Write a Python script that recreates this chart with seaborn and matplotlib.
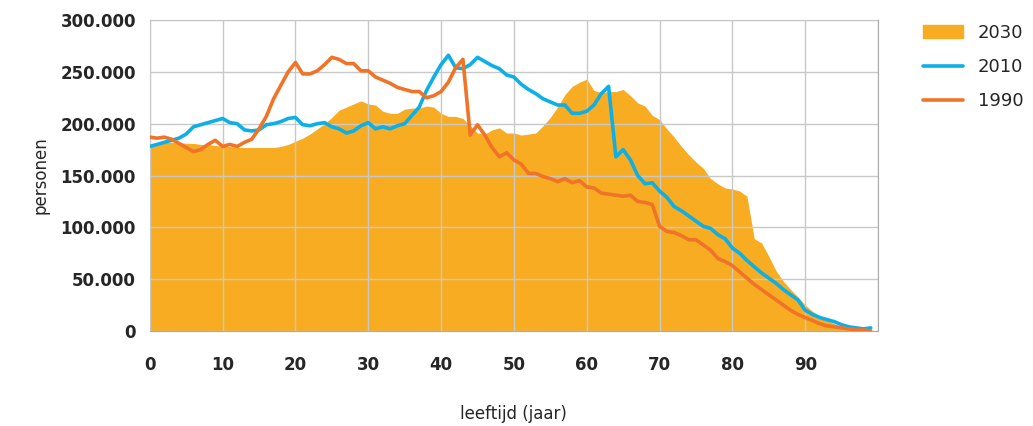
import numpy as np
import pandas as pd
import seaborn as sns
import matplotlib.pyplot as plt
from matplotlib.patches import Patch
from matplotlib.lines import Line2D
from matplotlib.ticker import FuncFormatter

# population by age (x1000)
ages = list(range(100))
pop_2030 = [177, 180, 182, 182, 182, 181, 181, 180, 180, 179,
            178, 178, 177, 177, 177, 177, 177, 177, 178, 180,
            183, 186, 190, 195, 200, 206, 213, 216, 219, 222,
            219, 218, 212, 210, 210, 214, 215, 215, 217, 216,
            210, 207, 207, 205, 198, 191, 190, 194, 196, 191,
            191, 189, 190, 191, 198, 206, 216, 228, 236, 240,
            243, 232, 230, 231, 231, 233, 227, 220, 217, 208,
            204, 195, 187, 178, 170, 163, 157, 147, 142, 138,
            137, 135, 130, 89, 85, 72, 58, 48, 40, 33,
            25, 19, 14, 10, 7, 4, 3, 2, 1, 2]
pop_2010 = [178, 180, 182, 184, 186, 190, 197, 199, 201, 203,
            205, 201, 200, 194, 193, 194, 199, 200, 202, 205,
            206, 199, 198, 200, 201, 197, 195, 191, 193, 198,
            201, 195, 197, 195, 198, 200, 208, 216, 232, 245,
            257, 266, 254, 253, 257, 264, 260, 256, 253, 247,
            245, 238, 233, 229, 224, 221, 218, 218, 210, 210,
            212, 218, 229, 236, 168, 175, 165, 150, 142, 143,
            135, 129, 120, 116, 111, 106, 101, 99, 93, 89,
            80, 75, 68, 62, 56, 51, 46, 40, 35, 30,
            20, 16, 13, 11, 9, 6, 4, 3, 2, 3]
pop_1990 = [187, 186, 187, 185, 181, 177, 173, 175, 180, 184,
            178, 180, 178, 182, 185, 195, 207, 224, 237, 250,
            259, 248, 248, 251, 257, 264, 262, 258, 258, 251,
            251, 245, 242, 239, 235, 233, 231, 231, 225, 227,
            231, 240, 254, 262, 189, 199, 189, 177, 168, 172,
            165, 161, 152, 152, 149, 147, 144, 147, 143, 145,
            139, 138, 133, 132, 131, 130, 131, 125, 124, 122,
            101, 96, 95, 92, 88, 88, 83, 78, 70, 67,
            63, 57, 51, 45, 40, 35, 30, 25, 20, 16,
            13, 10, 7, 5, 4, 3, 2, 1, 1, 0]

df = pd.DataFrame({'age': ages,
                   '2030': np.array(pop_2030) * 1000,
                   '2010': np.array(pop_2010) * 1000,
                   '1990': np.array(pop_1990) * 1000})

sns.set_style('white')
plt.rcParams['font.family'] = ['DejaVu Sans']

c_area = '#f8ac22'
c_blue = '#0cb0e6'
c_orange = '#f07427'

fig = plt.figure(figsize=(10.33, 4.26), dpi=100)
ax = fig.add_axes([0.145, 0.223, 0.705, 0.730])

ax.fill_between(df['age'], df['2030'], color=c_area, lw=0, zorder=1)
sns.lineplot(data=df, x='age', y='2010', color=c_blue, lw=2.6, ax=ax, zorder=3)
sns.lineplot(data=df, x='age', y='1990', color=c_orange, lw=2.6, ax=ax, zorder=3)

ax.set_xlim(0, 100)
ax.set_ylim(0, 300000)
ax.set_xticks(range(0, 101, 10))
ax.set_xticklabels([str(v) for v in range(0, 91, 10)] + [''])
ax.set_yticks(range(0, 300001, 50000))
ax.yaxis.set_major_formatter(FuncFormatter(lambda v, p: f'{int(v):,}'.replace(',', '.')))
ax.grid(True, color='#c8c8c8', lw=1, zorder=2)
ax.set_axisbelow(False)
for s in ax.spines.values():
    s.set_color('#aaaaaa')
ax.tick_params(axis='x', pad=18, labelsize=12, length=0)
ax.tick_params(axis='y', labelsize=12, length=0, pad=10)
for t in ax.get_xticklabels() + ax.get_yticklabels():
    t.set_fontweight('bold')
ax.set_xlabel('leeftijd (jaar)', fontsize=12, labelpad=22)
ax.set_ylabel('personen', fontsize=12, labelpad=8)

handles = [Patch(color=c_area),
           Line2D([], [], color=c_blue, lw=2.6),
           Line2D([], [], color=c_orange, lw=2.6)]
ax.legend(handles, ['2030', '2010', '1990'], loc='upper left',
          bbox_to_anchor=(1.04, 1.04), frameon=False, fontsize=13,
          handlelength=2.2, labelspacing=0.9)

fig.savefig('out.png', dpi=100)
